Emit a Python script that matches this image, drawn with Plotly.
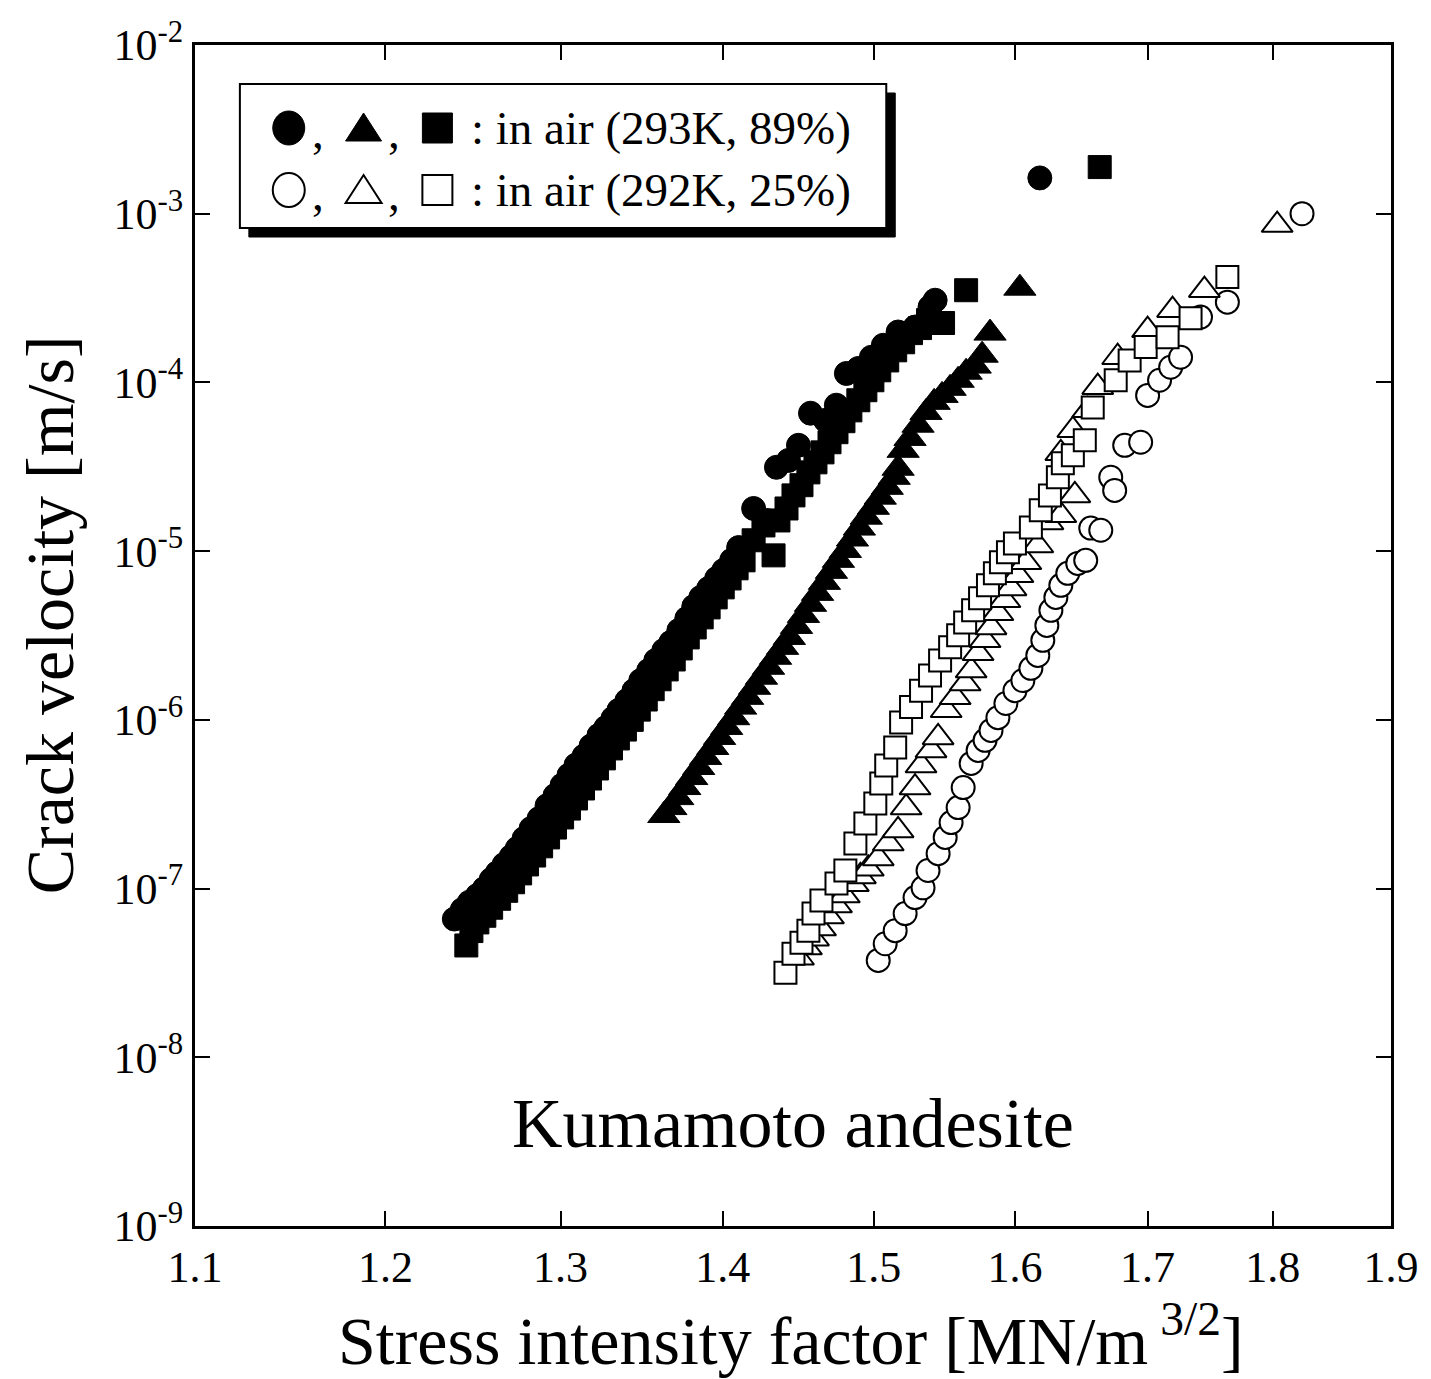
import plotly.graph_objects as go

# ---------------------------------------------------------------
# Crack velocity vs. stress intensity factor, Kumamoto andesite
# Filled symbols: in air (293K, 89%), open symbols: in air (292K, 25%)
# ---------------------------------------------------------------

# filled circles (293K, 89%)
k_fc = [1.2384, 1.2429, 1.2469, 1.2515, 1.2555, 1.2594, 1.2629, 1.2669, 1.2710, 1.2745,
        1.2785, 1.2826, 1.2873, 1.2920, 1.2967, 1.3009, 1.3050, 1.3092, 1.3140, 1.3182,
        1.3230, 1.3272, 1.3315, 1.3351, 1.3400, 1.3443, 1.3485, 1.3534, 1.3578, 1.3628,
        1.3672, 1.3722, 1.3772, 1.3816, 1.3860, 1.3910, 1.3961, 1.4006, 1.4057, 1.4102,
        1.4199, 1.4283, 1.4348, 1.4427, 1.4493, 1.4573, 1.4673, 1.4746, 1.4814, 1.4895,
        1.4984, 1.5066, 1.5168, 1.5286, 1.5391, 1.5427, 1.6183]
v_fc = [6.6e-8, 7.5e-8, 8.3e-8, 9.1e-8, 1.0e-7, 1.13e-7, 1.24e-7, 1.39e-7, 1.55e-7, 1.73e-7,
        1.98e-7, 2.27e-7, 2.6e-7, 3.1e-7, 3.56e-7, 4.1e-7, 4.7e-7, 5.4e-7, 6.1e-7, 7.0e-7,
        8.1e-7, 9.0e-7, 1.02e-6, 1.14e-6, 1.30e-6, 1.49e-6, 1.71e-6, 1.96e-6, 2.25e-6, 2.58e-6,
        2.88e-6, 3.39e-6, 3.99e-6, 4.70e-6, 5.32e-6, 6.01e-6, 6.89e-6, 7.69e-6, 8.82e-6, 1.05e-5,
        1.79e-5, 1.52e-5, 3.14e-5, 3.45e-5, 4.24e-5, 6.57e-5, 5.96e-5, 7.33e-5, 1.13e-4, 1.21e-4,
        1.41e-4, 1.66e-4, 1.99e-4, 2.13e-4, 2.80e-4, 3.07e-4, 1.63e-3]

# filled triangles (293K, 89%)
k_ft = [1.3628, 1.3672, 1.3715, 1.3759, 1.3803, 1.3847, 1.3891, 1.3936, 1.3980, 1.4025,
        1.4070, 1.4115, 1.4160, 1.4205, 1.4250, 1.4296, 1.4342, 1.4388, 1.4433, 1.4480,
        1.4526, 1.4573, 1.4620, 1.4666, 1.4713, 1.4760, 1.4807, 1.4855, 1.4902, 1.4949,
        1.4997, 1.5045, 1.5093, 1.5141, 1.5168, 1.5203, 1.5251, 1.5307, 1.5363, 1.5420,
        1.5476, 1.5533, 1.5590, 1.5647, 1.5712, 1.5762, 1.5819, 1.6036]
v_ft = [2.71e-7, 3.02e-7, 3.46e-7, 3.97e-7, 4.55e-7, 5.22e-7, 5.99e-7, 6.86e-7, 7.87e-7, 9.02e-7,
        1.03e-6, 1.19e-6, 1.36e-6, 1.56e-6, 1.79e-6, 2.05e-6, 2.35e-6, 2.69e-6, 3.08e-6, 3.58e-6,
        4.16e-6, 4.84e-6, 5.62e-6, 6.53e-6, 7.59e-6, 8.82e-6, 1.01e-5, 1.18e-5, 1.37e-5, 1.59e-5,
        1.82e-5, 2.09e-5, 2.39e-5, 2.74e-5, 3.10e-5, 3.96e-5, 4.66e-5, 5.58e-5, 6.64e-5, 7.62e-5,
        8.38e-5, 9.23e-5, 1.03e-4, 1.15e-4, 1.25e-4, 1.45e-4, 1.96e-4, 3.62e-4]

# filled squares (293K, 89%)
k_fs = [1.2452, 1.2481, 1.2515, 1.2555, 1.2594, 1.2640, 1.2681, 1.2721, 1.2762, 1.2802,
        1.2844, 1.2885, 1.2926, 1.2967, 1.3009, 1.3050, 1.3092, 1.3134, 1.3176, 1.3218,
        1.3260, 1.3303, 1.3345, 1.3388, 1.3430, 1.3473, 1.3516, 1.3559, 1.3602, 1.3646,
        1.3690, 1.3734, 1.3778, 1.3822, 1.3866, 1.3910, 1.3955, 1.4000, 1.4044, 1.4089,
        1.4134, 1.4329, 1.4199, 1.4263, 1.4361, 1.4414, 1.4460, 1.4513, 1.4559, 1.4606,
        1.4653, 1.4700, 1.4747, 1.4794, 1.4841, 1.4895, 1.4943, 1.4991, 1.5038, 1.5093,
        1.5148, 1.5203, 1.5258, 1.5321, 1.5377, 1.5483, 1.5647, 1.6632]
v_fs = [4.6e-8, 5.6e-8, 6.3e-8, 6.9e-8, 7.7e-8, 8.7e-8, 9.7e-8, 1.09e-7, 1.23e-7, 1.39e-7,
        1.57e-7, 1.78e-7, 2.01e-7, 2.30e-7, 2.64e-7, 2.98e-7, 3.42e-7, 3.92e-7, 4.49e-7, 5.15e-7,
        5.91e-7, 6.77e-7, 7.76e-7, 8.76e-7, 1.0e-6, 1.15e-6, 1.32e-6, 1.52e-6, 1.74e-6, 1.99e-6,
        2.28e-6, 2.65e-6, 3.08e-6, 3.53e-6, 4.05e-6, 4.64e-6, 5.32e-6, 6.10e-6, 6.89e-6, 7.91e-6,
        8.82e-6, 9.44e-6, 1.16e-5, 1.42e-5, 1.52e-5, 1.79e-5, 2.14e-5, 2.46e-5, 2.93e-5, 3.36e-5,
        3.85e-5, 4.42e-5, 5.07e-5, 5.89e-5, 6.83e-5, 7.84e-5, 8.99e-5, 1.03e-4, 1.18e-4, 1.35e-4,
        1.55e-4, 1.73e-4, 1.96e-4, 2.10e-4, 2.34e-4, 2.25e-4, 3.52e-4, 1.89e-3]

# open circles (292K, 25%)
k_oc = [1.5031, 1.5079, 1.5148, 1.5217, 1.5286, 1.5342, 1.5377, 1.5448, 1.5498, 1.5540,
        1.5590, 1.5626, 1.5683, 1.5733, 1.5783, 1.5826, 1.5876, 1.5934, 1.6000, 1.6058,
        1.6117, 1.6168, 1.6205, 1.6235, 1.6265, 1.6302, 1.6339, 1.6391, 1.6466, 1.6526,
        1.6564, 1.6640, 1.6716, 1.6746, 1.6823, 1.6946, 1.7000, 1.7093, 1.7180, 1.7258,
        1.7416, 1.7631, 1.8243]
v_oc = [3.75e-8, 4.71e-8, 5.63e-8, 7.11e-8, 8.84e-8, 1.01e-7, 1.28e-7, 1.61e-7, 2.01e-7, 2.46e-7,
        3.02e-7, 3.97e-7, 5.52e-7, 6.59e-7, 7.56e-7, 8.66e-7, 1.03e-6, 1.25e-6, 1.49e-6, 1.71e-6,
        2.02e-6, 2.41e-6, 2.96e-6, 3.63e-6, 4.46e-6, 5.32e-6, 6.27e-6, 7.39e-6, 8.46e-6, 8.82e-6,
        1.37e-5, 1.33e-5, 2.74e-5, 2.29e-5, 4.24e-5, 4.42e-5, 8.38e-5, 1.03e-4, 1.23e-4, 1.41e-4,
        2.44e-4, 2.99e-4, 1.0e-3]

# open triangles (292K, 25%)
k_ot = [1.4493, 1.4546, 1.4593, 1.4640, 1.4693, 1.4747, 1.4800, 1.4861, 1.4909, 1.4963,
        1.5031, 1.5100, 1.5168, 1.5224, 1.5286, 1.5328, 1.5398, 1.5448, 1.5505, 1.5569,
        1.5640, 1.5683, 1.5733, 1.5783, 1.5826, 1.5876, 1.5927, 1.5971, 1.6022, 1.6080,
        1.6168, 1.6243, 1.6339, 1.6444, 1.6339, 1.6429, 1.6541, 1.6617, 1.6769, 1.7000,
        1.7195, 1.7447, 1.8037]
v_ot = [3.89e-8, 4.47e-8, 5.05e-8, 5.79e-8, 6.82e-8, 7.93e-8, 9.09e-8, 1.06e-7, 1.18e-7, 1.31e-7,
        1.51e-7, 1.85e-7, 2.21e-7, 3.02e-7, 3.97e-7, 5.36e-7, 6.59e-7, 7.87e-7, 1.14e-6, 1.36e-6,
        1.64e-6, 1.96e-6, 2.48e-6, 2.96e-6, 3.53e-6, 4.28e-6, 5.11e-6, 6.01e-6, 7.19e-6, 8.58e-6,
        1.08e-5, 1.48e-5, 1.63e-5, 2.14e-5, 3.80e-5, 5.21e-5, 6.83e-5, 9.37e-5, 1.41e-4, 2.04e-4,
        2.68e-4, 3.52e-4, 8.56e-4]

# open squares (292K, 25%)
k_os = [1.4407, 1.4460, 1.4513, 1.4559, 1.4593, 1.4646, 1.4747, 1.4807, 1.4875, 1.4943,
        1.5011, 1.5052, 1.5086, 1.5148, 1.5189, 1.5258, 1.5328, 1.5391, 1.5462, 1.5533,
        1.5590, 1.5640, 1.5697, 1.5747, 1.5804, 1.5854, 1.5898, 1.5949, 1.6000, 1.6117,
        1.6190, 1.6258, 1.6317, 1.6354, 1.6429, 1.6519, 1.6579, 1.6754, 1.6861, 1.6985,
        1.7156, 1.7337, 1.7631]
v_os = [3.17e-8, 4.11e-8, 4.78e-8, 5.63e-8, 7.11e-8, 8.49e-8, 1.07e-7, 1.28e-7, 1.85e-7, 2.43e-7,
        3.19e-7, 4.20e-7, 5.36e-7, 6.86e-7, 9.65e-7, 1.19e-6, 1.49e-6, 1.83e-6, 2.25e-6, 2.69e-6,
        3.17e-6, 3.78e-6, 4.46e-6, 5.25e-6, 6.27e-6, 7.39e-6, 8.58e-6, 9.84e-6, 1.11e-5, 1.38e-5,
        1.75e-5, 2.14e-5, 2.74e-5, 3.32e-5, 3.70e-5, 4.54e-5, 7.11e-5, 1.03e-4, 1.35e-4, 1.62e-4,
        1.85e-4, 2.40e-4, 4.21e-4]

x_ticks = [1.1, 1.2, 1.3, 1.4, 1.5, 1.6, 1.7, 1.8, 1.9]
x_ticktext = ["1.1", "1.2", "1.3", "1.4", "1.5", "1.6", "1.7", "1.8", "1.9"]
y_exponents = [-9, -8, -7, -6, -5, -4, -3, -2]

legend_rows = [": in air (293K, 89%)", ": in air (292K, 25%)"]

FONT = "Liberation Serif"
W, H = 1431, 1379
ML, MR, MT, MB = 195, 37, 45, 153
PW, PH = W - ML - MR, H - MT - MB


def xp(px):
    """page pixel -> paper x"""
    return (px - ML) / PW


def yp(py):
    """page pixel -> paper y"""
    return (H - MB - py) / PH


fig = go.Figure()

filled = dict(color="black", line=dict(color="black", width=1))
hollow = dict(color="white", line=dict(color="black", width=2))

fig.add_trace(go.Scatter(x=k_ft, y=v_ft, mode="markers",
                         marker=dict(symbol="triangle-up", size=28, **filled)))
fig.add_trace(go.Scatter(x=k_fs, y=v_fs, mode="markers",
                         marker=dict(symbol="square", size=23, **filled)))
fig.add_trace(go.Scatter(x=k_fc, y=v_fc, mode="markers",
                         marker=dict(symbol="circle", size=24, **filled)))
fig.add_trace(go.Scatter(x=k_oc, y=v_oc, mode="markers",
                         marker=dict(symbol="circle", size=23, **hollow)))
fig.add_trace(go.Scatter(x=k_ot, y=v_ot, mode="markers",
                         marker=dict(symbol="triangle-up", size=27, **hollow)))
fig.add_trace(go.Scatter(x=k_os, y=v_os, mode="markers",
                         marker=dict(symbol="square", size=22, **hollow)))

axis_common = dict(
    showline=True, linecolor="black", linewidth=3, mirror="ticks",
    ticks="inside", ticklen=15, tickwidth=2, tickcolor="black",
    showgrid=False, zeroline=False,
    tickfont=dict(family=FONT, size=44, color="black"),
)

fig.update_xaxes(type="log", range=[0.041393, 0.278754],
                 tickmode="array", tickvals=x_ticks, ticktext=x_ticktext,
                 **axis_common)
fig.update_yaxes(type="log", range=[-9, -2],
                 tickmode="array", tickvals=[10.0 ** e for e in y_exponents],
                 ticktext=["10<sup>%d</sup>" % e for e in y_exponents],
                 **axis_common)

annotations = [
    dict(text="Stress intensity factor [MN/m<sup> 3/2</sup>]", x=xp(792), y=yp(1336),
         font=dict(size=68, family=FONT, color="black")),
    dict(text="Crack velocity [m/s]", x=xp(50), y=yp(615), textangle=-90,
         font=dict(size=68, family=FONT, color="black")),
    dict(text="Kumamoto andesite", x=xp(795), y=yp(1123),
         font=dict(size=70, family=FONT, color="black")),
]
for row, text in enumerate(legend_rows):
    ycen = 128 if row == 0 else 190
    annotations.append(dict(text=text, x=xp(470), y=yp(ycen), xanchor="left",
                            font=dict(size=47, family=FONT, color="black")))
    for cx in (318, 395):
        annotations.append(dict(text=",", x=xp(cx), y=yp(ycen + 4),
                                font=dict(size=47, family=FONT, color="black")))
for a in annotations:
    a.setdefault("xanchor", "center")
    a.update(xref="paper", yref="paper", yanchor="middle", showarrow=False)

shapes = [
    # legend frame with drop shadow
    dict(type="rect", xref="paper", yref="paper", x0=xp(249), x1=xp(897), y0=yp(93), y1=yp(237),
         fillcolor="black", line=dict(color="black", width=1)),
    dict(type="rect", xref="paper", yref="paper", x0=xp(240), x1=xp(888), y0=yp(84), y1=yp(228),
         fillcolor="white", line=dict(color="black", width=2)),
]
for row, (fill, lw) in enumerate([("black", 1), ("white", 2)]):
    ycen = 128 if row == 0 else 190
    common = dict(xref="paper", yref="paper", xsizemode="pixel", ysizemode="pixel",
                  yanchor=yp(ycen), fillcolor=fill, line=dict(color="black", width=lw))
    shapes.append(dict(type="circle", xanchor=xp(289), x0=-16, x1=16, y0=-17, y1=17, **common))
    shapes.append(dict(type="path", xanchor=xp(364), path="M -18,-13 L 18,-13 L 0,15 Z", **common))
    shapes.append(dict(type="rect", xanchor=xp(438), x0=-15, x1=15, y0=-15, y1=15, **common))

fig.update_layout(
    width=W, height=H,
    margin=dict(l=ML, r=MR, t=MT, b=MB),
    paper_bgcolor="white", plot_bgcolor="white",
    showlegend=False,
    annotations=annotations,
    shapes=shapes,
)

fig.write_html("out.html")
